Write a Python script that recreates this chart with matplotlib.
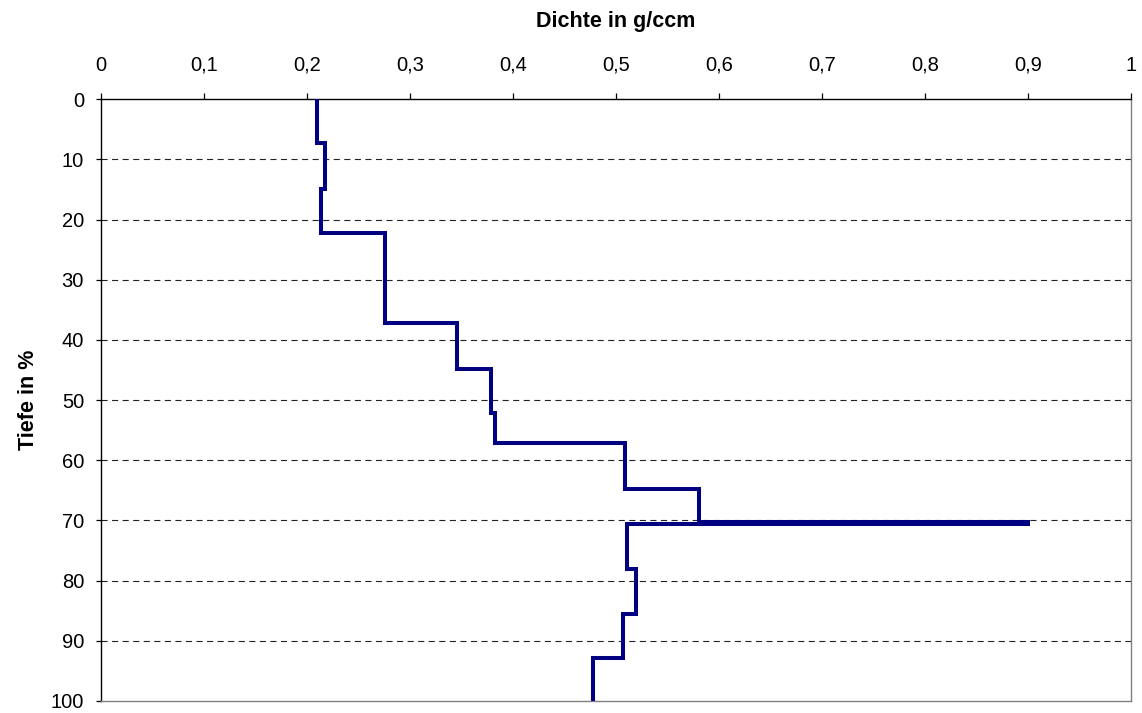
import numpy as np
import matplotlib
matplotlib.use("Agg")
import matplotlib.pyplot as plt

# Layer tops (depth in %) and the density of each layer (g/ccm)
layer_top = [0, 7.2, 14.9, 22.3, 37.2, 44.8, 52.1, 57.1, 64.7, 70.3, 70.6, 78.0, 85.6, 92.9]
density = [0.210, 0.217, 0.214, 0.276, 0.346, 0.379, 0.383, 0.509, 0.581, 0.900,
           0.511, 0.519, 0.507, 0.478]
depth_max = 100

x_ticks = [0, 0.1, 0.2, 0.3, 0.4, 0.5, 0.6, 0.7, 0.8, 0.9, 1.0]
x_tick_labels = ["0", "0,1", "0,2", "0,3", "0,4", "0,5", "0,6", "0,7", "0,8", "0,9", "1"]
y_ticks = [0, 10, 20, 30, 40, 50, 60, 70, 80, 90, 100]
y_tick_labels = [str(t) for t in y_ticks]

plt.rcParams["font.family"] = ["Liberation Sans", "DejaVu Sans"]

W, H = 1142, 713
fig = plt.figure(figsize=(W / 100, H / 100), dpi=100)
left_px, right_px, top_px, bottom_px = 101, 1131, 99.3, 701
ax = fig.add_axes([left_px / W, 1 - bottom_px / H,
                   (right_px - left_px) / W, (bottom_px - top_px) / H])

# Step profile: each layer is a vertical segment from its top to the next top
bounds = list(layer_top) + [depth_max]
xs, ys = [], []
for i, v in enumerate(density):
    xs += [v, v]
    ys += [bounds[i], bounds[i + 1]]
ax.plot(xs, ys, color="#000080", lw=2.9, solid_joinstyle="miter",
        solid_capstyle="round", zorder=3)

ax.set_xlim(0, 1)
ax.set_ylim(100, 0)

ax.xaxis.tick_top()
ax.set_xticks(x_ticks)
ax.set_xticklabels(x_tick_labels)
ax.set_yticks(y_ticks)
ax.set_yticklabels(y_tick_labels)
ax.tick_params(axis="both", labelsize=14.5, width=0.9, color="#000000", direction="out")
ax.tick_params(axis="x", length=4.3, pad=13.5)
ax.tick_params(axis="y", length=3.6, pad=8.6)

ax.xaxis.set_label_position("top")
ax.set_xlabel("Dichte in g/ccm", fontsize=15.5, fontweight="bold", va="center")
ax.xaxis.set_label_coords(0.5, (bottom_px - 22) / (bottom_px - top_px))
ax.set_ylabel("Tiefe in %", fontsize=15.5, fontweight="bold", va="center")
ax.yaxis.set_label_coords((28 - left_px) / (right_px - left_px), 0.5)

for yv in y_ticks[1:-1]:
    ax.axhline(yv, color="#222222", lw=0.8, dashes=(5.5, 4), zorder=1)

for side in ["left", "top"]:
    ax.spines[side].set_color("#000000")
    ax.spines[side].set_linewidth(1.0)
for side in ["right", "bottom"]:
    ax.spines[side].set_color("#808080")
    ax.spines[side].set_linewidth(1.0)

fig.savefig("out.png", dpi=100)
